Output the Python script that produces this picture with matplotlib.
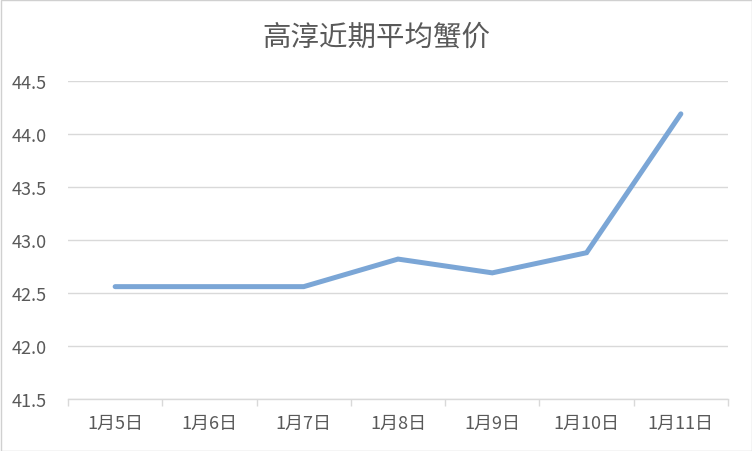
import matplotlib
matplotlib.use("Agg")
import matplotlib.pyplot as plt
from matplotlib.patches import Rectangle

plt.rcParams['font.family'] = ['Noto Sans CJK SC', 'DejaVu Sans']

title = "高淳近期平均蟹价"
categories = ["1月5日", "1月6日", "1月7日", "1月8日", "1月9日", "1月10日", "1月11日"]
prices = [42.56, 42.56, 42.56, 42.82, 42.69, 42.88, 44.19]
yticks = [41.5, 42.0, 42.5, 43.0, 43.5, 44.0, 44.5]

W, H = 752, 452
fig = plt.figure(figsize=(W / 100, H / 100), dpi=100)
fig.patch.set_facecolor("white")
fig.patches.append(Rectangle((0.5 / W, 0.5 / H), 1 - 1 / W, 1 - 1 / H, transform=fig.transFigure,
                             fill=False, edgecolor="#D0D0D0", linewidth=1))

ax = fig.add_axes([68 / W, 52 / H, 660 / W, 318 / H])
x = list(range(len(categories)))
ax.plot(x, prices, color="#7BA6D6", linewidth=3.6, solid_capstyle="round", solid_joinstyle="miter", zorder=3)

ax.set_xlim(-0.5, len(categories) - 0.5)
ax.set_ylim(41.5, 44.5)
ax.set_yticks(yticks)
ax.set_yticklabels([f"{v:.1f}" for v in yticks])
ax.set_xticks(x)
ax.set_xticklabels(categories)
ax.set_xticks([i - 0.5 for i in range(len(categories) + 1)], minor=True)

ax.grid(axis="y", color="#D9D9D9", linewidth=1)
ax.set_axisbelow(True)
for s in ["top", "right", "left"]:
    ax.spines[s].set_visible(False)
ax.spines["bottom"].set_color("#D9D9D9")
ax.spines["bottom"].set_linewidth(1)

ax.tick_params(axis="y", length=0, pad=15, labelsize=13, labelcolor="#595959")
ax.tick_params(axis="x", which="major", length=0, pad=11, labelsize=13, labelcolor="#595959")
ax.tick_params(axis="x", which="minor", length=5, color="#D9D9D9", width=1)

fig.text(0.5, 1 - 38 / H, title, ha="center", va="center", fontsize=20.5, color="#595959")

fig.savefig("out.png", dpi=100)
